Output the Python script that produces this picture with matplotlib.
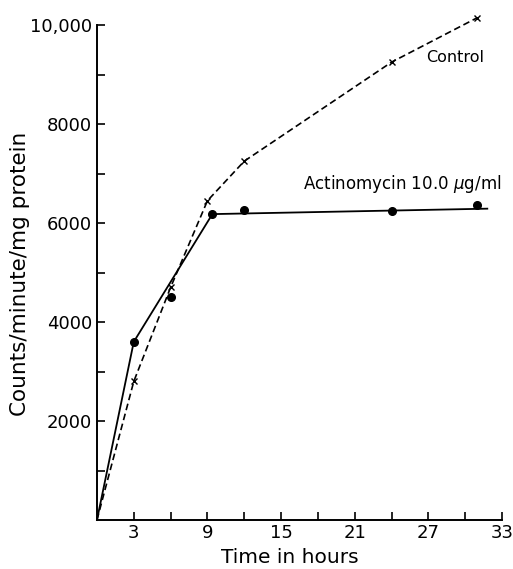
import matplotlib
matplotlib.use("Agg")
import matplotlib.pyplot as plt
from matplotlib.ticker import FixedLocator

# Data
control_x = [0, 3, 6, 9, 12, 24, 31]
control_y = [0, 2800, 4700, 6450, 7250, 9250, 10150]

actino_x = [3, 6, 9.4, 12, 24, 31]
actino_y = [3600, 4500, 6180, 6270, 6250, 6360]

# Drawn (fitted) curve for actinomycin
actino_line_x = [0, 3, 9.4, 31.8]
actino_line_y = [0, 3600, 6180, 6290]

x_major = [3, 9, 15, 21, 27, 33]
x_minor = [6, 12, 18, 24, 30]
y_major = [2000, 4000, 6000, 8000, 10000]
y_major_labels = ["2000", "4000", "6000", "8000", "10,000"]
y_minor = [1000, 3000, 5000, 7000, 9000]

plt.rcParams['font.family'] = ['DejaVu Sans']

fig = plt.figure(figsize=(5.13, 5.69), dpi=100)
ax = fig.add_axes([0.189, 0.0861, 0.7896, 0.8699])

ax.plot(control_x, control_y, color='black', lw=1.2, ls=(0, (4, 2.2)),
        marker='x', ms=4.5, mew=1.0, clip_on=False,
        markevery=list(range(1, len(control_x))))
ax.plot(actino_line_x, actino_line_y, color='black', lw=1.3, ls='-',
        clip_on=False)
ax.plot(actino_x, actino_y, ls='none', marker='o', ms=5.5, color='black',
        clip_on=False)

ax.text(29.2, 9350, "Control", fontsize=11.5, ha='center', va='center')
ax.text(24.9, 6780, "Actinomycin 10.0 $\\mu$g/ml", fontsize=12,
        ha='center', va='center')

ax.set_xlim(0, 33)
ax.set_ylim(0, 10000)
for s in ['top', 'right']:
    ax.spines[s].set_visible(False)
for s in ['left', 'bottom']:
    ax.spines[s].set_linewidth(1.4)

ax.xaxis.set_major_locator(FixedLocator(x_major))
ax.xaxis.set_minor_locator(FixedLocator(x_minor))
ax.yaxis.set_major_locator(FixedLocator(y_major))
ax.yaxis.set_minor_locator(FixedLocator(y_minor))
ax.set_xticklabels([str(v) for v in x_major])
ax.set_yticklabels(y_major_labels)

ax.tick_params(which='both', direction='in', length=6, width=1.2, labelsize=13)
ax.tick_params(axis='x', pad=3)
ax.tick_params(axis='y', pad=3.5)

ax.set_xlabel("Time in hours", fontsize=14.5)
ax.set_ylabel("Counts/minute/mg protein", fontsize=15.5)
ax.xaxis.set_label_coords(290 / 513 * 513 / (0.7896 * 513) - 0.189 / 0.7896,
                          -(557 - 520) / (0.8699 * 569))
ax.yaxis.set_label_coords(-(97 - 20) / (0.7896 * 513),
                          (520 - 274) / (0.8699 * 569))
ax.xaxis.label.set_va('center')
ax.yaxis.label.set_va('center')

fig.savefig("out.png", dpi=100)
